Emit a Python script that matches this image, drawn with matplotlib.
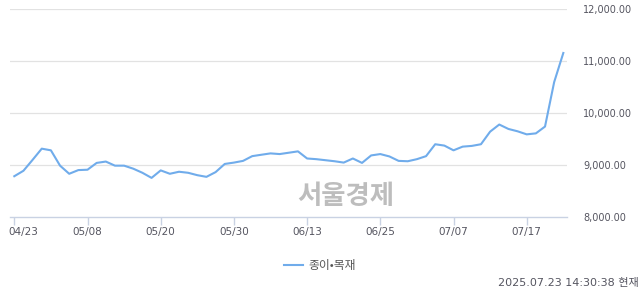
#!/usr/bin/env python3
import numpy as np
import matplotlib
matplotlib.use('Agg')
from matplotlib import pyplot as plt
from matplotlib.transforms import ScaledTranslation

# daily closing index, 04/23 .. 07/23 (61 trading days)
values = [8790, 8895, 9105, 9320, 9288, 8993, 8837, 8908, 8915, 9046,
          9072, 8993, 8993, 8935, 8856, 8758, 8902, 8837, 8876, 8856,
          8810, 8778, 8869, 9026, 9052, 9085, 9176, 9203, 9229, 9216,
          9242, 9268, 9131, 9118, 9098, 9078, 9052, 9131, 9046, 9190,
          9216, 9170, 9085, 9078, 9118, 9176, 9405, 9379, 9288, 9359,
          9373, 9405, 9647, 9784, 9699, 9654, 9595, 9614, 9745, 10600,
          11160]
tickIdx = [0, 8, 16, 24, 32, 40, 48, 56]
tickLabels = ['04/23', '05/08', '05/20', '05/30', '06/13', '06/25', '07/07', '07/17']
yTicks = [8000, 9000, 10000, 11000, 12000]
seriesName = '종이•목재'
stamp = '2025.07.23 14:30:38 현재'

plt.rcParams['font.family'] = ['DejaVu Sans', 'Noto Sans CJK KR']

fig = plt.figure(figsize=(6.4, 2.94), dpi=100)
ax = fig.add_axes([10/640, 1 - 217.3/294, 556.7/640, 208/294])

x = np.arange(len(values))
line, = ax.plot(x, values, color='#70aceb', lw=1.5, solid_joinstyle='round')

ax.set_xlim(-0.47, 60.37)
ax.set_ylim(8000, 12000)

for v in yTicks[1:]:
  ax.axhline(v, color='#e2e2e2', lw=0.9, zorder=0)

for s in ['top', 'left', 'right']:
  ax.spines[s].set_visible(False)
ax.spines['bottom'].set_color('#c9d2e3')
ax.spines['bottom'].set_linewidth(1)

ax.yaxis.tick_right()
ax.set_yticks(yTicks)
ax.set_yticklabels(['{:,.2f}'.format(v) for v in yTicks])
ax.tick_params(axis='y', length=0, pad=12, labelsize=7, labelcolor='#555560')

ax.set_xticks(tickIdx)
ax.set_xticklabels(tickLabels)
ax.tick_params(axis='x', length=6, width=1, color='#c9d2e3', pad=1,
               labelsize=7.5, labelcolor='#555560')
# first label is pushed right so it stays inside the figure
first = ax.get_xticklabels()[0]
first.set_transform(first.get_transform() + ScaledTranslation(9/100, 0, fig.dpi_scale_trans))

# watermark
fig.text(346/640, 1 - 196/294, '서울경제', ha='center', va='center',
         fontsize=19, fontweight='bold', color='#bdbdbd',
         family=['Noto Sans CJK KR'])

# legend
fig.legend([line], [seriesName], loc='center', bbox_to_anchor=(320/640, 1 - 266/294),
           frameon=False, handlelength=1.6, handletextpad=0.5,
           labelcolor='#555555', prop={'family': ['Noto Sans CJK KR'], 'size': 8.5})

fig.text(639/640, 1 - 283/294, stamp, ha='right', va='center',
         fontsize=8, color='#555560', family=['DejaVu Sans', 'Noto Sans CJK KR'])

fig.savefig('out.png', dpi=100)
